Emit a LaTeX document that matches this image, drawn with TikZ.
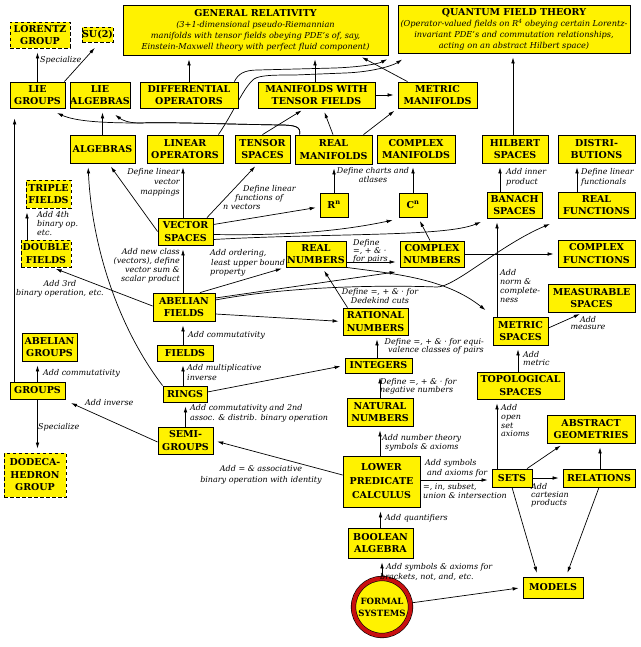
\documentclass[tikz,border=0pt]{standalone}
\usepackage{fontspec}
\setmainfont{DejaVu Serif}
\usetikzlibrary{arrows.meta,calc}
\pgfdeclarelayer{bg}
\pgfsetlayers{bg,main}
\definecolor{ringred}{RGB}{200,16,16}
\tikzset{
  box/.style={draw=black, fill=yellow, line width=0.8pt, align=center, inner sep=0pt, font=\bfseries\fontsize{9.5}{12.5}\selectfont},
  dbox/.style={box, dash pattern=on 3.5pt off 2.5pt},
  lab/.style={font=\itshape\fontsize{8}{9}\selectfont, inner sep=0pt, align=left, text=black},
  arr/.style={-{Latex[length=6pt,width=3.6pt]}, line width=0.7pt, shorten >=4pt},
  sz/.style 2 args={minimum width=#1pt, minimum height=#2pt},
  bigtext/.style={font=\itshape\fontsize{8.2}{11}\selectfont}
}
\begin{document}
\begin{tikzpicture}[x=1pt,y=-1pt]
\path[use as bounding box] (0,0) rectangle (640,647);
% ---------- nodes ----------
\node[dbox, sz={60}{26}] (lorentz) at (40,35) {LORENTZ\\GROUP};
\node[dbox, sz={31}{15}] (su2) at (97.5,35) {SU(2)};
\node[box, sz={265}{50}, bigtext] (gr) at (255.5,30) {{\bfseries\upshape\fontsize{9.5}{11}\selectfont GENERAL RELATIVITY}\\(3+1-dimensional pseudo-Riemannian\\manifolds with tensor fields obeying PDE's of, say,\\Einstein-Maxwell theory with perfect fluid component)};
\node[box, sz={232}{48}, bigtext] (qft) at (514,29) {{\bfseries\upshape\fontsize{9.5}{11}\selectfont QUANTUM FIELD THEORY}\\(Operator-valued fields on R\textsuperscript{4} obeying certain Lorentz-\\invariant PDE's and commutation relationships,\\acting on an abstract Hilbert space)};
\node[box, sz={55}{26}] (liegroups) at (37.5,95) {LIE\\GROUPS};
\node[box, sz={60}{26}] (liealg) at (100,95) {LIE\\ALGEBRAS};
\node[box, sz={98}{26}] (diffop) at (189,95) {DIFFERENTIAL\\OPERATORS};
\node[box, sz={117}{26}] (mtf) at (316.5,95) {MANIFOLDS WITH\\TENSOR FIELDS};
\node[box, sz={79}{26}] (metman) at (437.5,95) {METRIC\\MANIFOLDS};
\node[box, sz={65}{28}] (algebras) at (102.5,149) {ALGEBRAS};
\node[box, sz={76}{28}] (linop) at (185,149) {LINEAR\\OPERATORS};
\node[box, sz={55}{28}] (tensp) at (262.5,149) {TENSOR\\SPACES};
\node[box, sz={77}{29}] (realman) at (333.5,149.5) {REAL\\MANIFOLDS};
\node[box, sz={78}{28}] (complexman) at (416,149) {COMPLEX\\MANIFOLDS};
\node[box, sz={66}{28}] (hilbert) at (515,149) {HILBERT\\SPACES};
\node[box, sz={77}{28}] (distrib) at (596.5,149) {DISTRI-\\BUTIONS};
\node[dbox, sz={45}{28}] (triple) at (48.5,194) {TRIPLE\\FIELDS};
\node[dbox, sz={50}{27}] (double) at (46,253.5) {DOUBLE\\FIELDS};
\node[box, sz={55}{27}] (vector) at (185.5,231.5) {VECTOR\\SPACES};
\node[box, sz={28}{24}] (rn) at (334,205) {R\textsuperscript{n}};
\node[box, sz={28}{24}] (cn) at (413,205) {C\textsuperscript{n}};
\node[box, sz={55}{26}] (banach) at (514.5,205) {BANACH\\SPACES};
\node[box, sz={77}{26}] (realfun) at (596.5,205) {REAL\\FUNCTIONS};
\node[box, sz={60}{26}] (realnum) at (316,254) {REAL\\NUMBERS};
\node[box, sz={64}{26}] (compnum) at (432,254) {COMPLEX\\NUMBERS};
\node[box, sz={77}{27}] (compfun) at (596.5,253.5) {COMPLEX\\FUNCTIONS};
\node[box, sz={62}{28}] (abfields) at (184,307) {ABELIAN\\FIELDS};
\node[box, sz={87}{28}] (measurable) at (591.5,298) {MEASURABLE\\SPACES};
\node[box, sz={65}{27}] (rational) at (375.5,321.5) {RATIONAL\\NUMBERS};
\node[box, sz={55}{28}] (metricsp) at (520.5,331) {METRIC\\SPACES};
\node[box, sz={55}{28}] (abgroups) at (49.5,347) {ABELIAN\\GROUPS};
\node[box, sz={56}{16}] (fields) at (185,353) {FIELDS};
\node[box, sz={55}{17}] (groups) at (37.5,390.5) {GROUPS};
\node[box, sz={44}{16}] (rings) at (185,394) {RINGS};
\node[box, sz={67}{15}] (integers) at (378.5,365.5) {INTEGERS};
\node[box, sz={87}{27}] (topological) at (520.5,385.5) {TOPOLOGICAL\\SPACES};
\node[box, sz={66}{28}] (natural) at (380,412) {NATURAL\\NUMBERS};
\node[box, sz={88}{28}] (abstractgeo) at (591,429) {ABSTRACT\\GEOMETRIES};
\node[box, sz={55}{27}] (semigroups) at (185.5,440.5) {SEMI-\\GROUPS};
\node[dbox, sz={62}{44}] (dodeca) at (35,475) {DODECA-\\HEDRON\\GROUP};
\node[box, sz={77}{51}, font=\bfseries\fontsize{9.5}{14}\selectfont] (lpc) at (381.5,481.5) {LOWER\\PREDICATE\\CALCULUS};
\node[box, sz={40}{18}] (sets) at (512,478) {SETS};
\node[box, sz={72}{18}] (relations) at (599,478) {RELATIONS};
\node[box, sz={65}{30}] (boolean) at (380.5,543) {BOOLEAN\\ALGEBRA};
\node[box, sz={60}{21}] (models) at (553,587.5) {MODELS};
\node[circle, fill=yellow, draw=black, double=ringred, double distance=4pt, line width=0.6pt, minimum size=57pt, inner sep=0pt, align=center, font=\bfseries\fontsize{8.6}{12}\selectfont] (formal) at (382,607) {FORMAL\\SYSTEMS};
% ---------- labels ----------
\node[lab, anchor=west] (l1) at (40,60) {Specialize};
\node[lab, anchor=north east, align=right, font=\itshape\fontsize{8}{10}\selectfont] (l2) at (180,168) {Define linear\\vector\\mappings};
\node[lab, anchor=north west, font=\itshape\fontsize{8}{8.7}\selectfont] (l3) at (223,185.5) {\hspace*{20pt}Define linear\\\hspace*{12pt}functions of\\n vectors};
\node[lab, anchor=north, align=center] (l4) at (373,167.5) {Define charts and\\atlases};
\node[lab, anchor=north west, font=\itshape\fontsize{8}{10}\selectfont] (l5) at (506,168) {Add inner\\product};
\node[lab, anchor=north west, font=\itshape\fontsize{8}{10}\selectfont] (l6) at (581,168) {Define linear\\functionals};
\node[lab, anchor=north west] (l7) at (37,211.5) {Add 4th\\binary op.\\etc.};
\node[lab, anchor=north east, align=right] (l8) at (180,248.5) {Add new class\\(vectors), define\\vector sum \&\\scalar product};
\node[lab, anchor=north west, font=\itshape\fontsize{8}{9.5}\selectfont] (l9) at (210,249.5) {Add ordering,\\\hspace*{1pt}least upper bound\\property};
\node[lab, anchor=north, align=center, font=\itshape\fontsize{8}{8.5}\selectfont] (l10) at (60,280.5) {Add 3rd\\binary operation, etc.};
\node[lab, anchor=north west, font=\itshape\fontsize{8}{7.5}\selectfont] (l11) at (353,239) {Define\\=, + \& ·\\for pairs};
\node[lab, anchor=north, align=center] (l12) at (380,288.5) {Define =, + \& · for\\Dedekind cuts};
\node[lab, anchor=north west] (l13) at (500,269.5) {Add\\norm \&\\complete-\\ness};
\node[lab, anchor=north, align=center, font=\itshape\fontsize{8}{7.5}\selectfont] (l14) at (588,316) {Add\\measure};
\node[lab, anchor=west] (l15) at (188,335) {Add commutativity};
\node[lab, anchor=north west, font=\itshape\fontsize{8}{10}\selectfont] (l16) at (187,364.5) {Add multiplicative\\inverse};
\node[lab, anchor=north west, font=\itshape\fontsize{8}{10}\selectfont] (l17) at (190,404.5) {Add commutativity and 2nd\\assoc. \& distrib. binary operation};
\node[lab, anchor=west] (l18) at (85,403) {Add inverse};
\node[lab, anchor=west] (l19) at (43,373) {Add commutativity};
\node[lab, anchor=west] (l20) at (38,427) {Specialize};
\node[lab, anchor=north, align=center, font=\itshape\fontsize{8}{11}\selectfont] (l21) at (261,465.5) {Add = \& associative\\binary operation with identity};
\node[lab, anchor=north east, align=right, font=\itshape\fontsize{8}{8.5}\selectfont] (l22) at (484,338) {Define =, + \& · for equi-\\valence classes of pairs};
\node[lab, anchor=north west, font=\itshape\fontsize{8}{8.5}\selectfont] (l23) at (380,378) {Define =, + \& · for\\negative numbers};
\node[lab, anchor=north west] (l24) at (382,434.5) {Add number theory\\\hspace*{3pt}symbols \& axioms};
\node[lab, anchor=north west, font=\itshape\fontsize{8}{10}\selectfont] (l25) at (425,459.5) {Add symbols\\\hspace*{2pt}and axioms for};
\node[lab, anchor=north west] (l26) at (423,483.5) {=, in, subset,\\union \& intersection};
\node[lab, anchor=north west, font=\itshape\fontsize{8}{7.8}\selectfont] (l27) at (531,483.5) {Add\\cartesian\\products};
\node[lab, anchor=north west, font=\itshape\fontsize{8}{8.7}\selectfont] (l28) at (501,404.5) {Add\\open\\set\\axioms};
\node[lab, anchor=north west, font=\itshape\fontsize{8}{8}\selectfont] (l29) at (523,351.5) {Add\\metric};
\node[lab, anchor=west] (l30) at (385,518) {Add quantifiers};
\node[lab, anchor=north west, font=\itshape\fontsize{8}{10}\selectfont] (l31) at (380,563.5) {\hspace*{6pt}Add symbols \& axioms for\\brackets, not, and, etc.};
% ---------- connectors ----------
\begin{pgfonlayer}{bg}
\fill[white] (0,0) rectangle (640,647);
\draw[arr] (liegroups.north) -- (liegroups.north |- lorentz.south);
\draw[arr] ([xshift=-1pt]liegroups.north east) -- ([yshift=-2pt]su2.south);
\draw[arr] ([xshift=5pt]groups.north west) -- ([xshift=5pt,yshift=-6pt]liegroups.south west);
\draw[arr] (diffop.north) -- (diffop.north |- gr.south);
\draw[arr] ([xshift=-1.5pt]mtf.north) -- ([xshift=-1.5pt]mtf.north |- gr.south);
\draw[arr] ([xshift=-30pt]metman.north) -- ([xshift=-30pt]gr.south east);
\draw[arr] (mtf.east) -- (metman.west);
\draw[arr] ([xshift=-4pt]diffop.north east) .. controls (238,74) and (244,70) .. (258,70) -- (335,68) .. controls (360,67) and (378,64) .. ([xshift=-7pt,yshift=-4pt]qft.south west);
\draw[arr] ([xshift=-5pt]linop.north east) .. controls (235,110) and (243,88) .. (254,79) .. controls (260,75) and (275,75) .. (295,75) -- (345,73) .. controls (372,72) and (392,66) .. ([xshift=8pt,yshift=-4pt]qft.south west);
\draw[arr] ([xshift=5pt]realman.north west) .. controls (301,127) and (296,125) .. (280,125) .. controls (220,124) and (170,122) .. (140,123) .. controls (100,123) and (75,121) .. ([xshift=-12pt,yshift=-3pt]liegroups.south east);
\draw[arr] ([xshift=5pt]realman.north west) .. controls (301,127) and (296,125) .. (280,125) .. controls (220,124) and (170,122) .. (140,123) .. controls (128,123) and (122,120) .. ([xshift=12pt,yshift=-4pt]liealg.south);
\draw[arr] (algebras.north) -- (algebras.north |- liealg.south);
\draw[arr] (tensp.north) -- ([xshift=-11.5pt]mtf.south);
\draw[arr] ([xshift=-0.5pt]realman.north) -- ([xshift=6.5pt]mtf.south);
\draw[arr] ([xshift=30pt]realman.north) -- ([xshift=-40pt]metman.south);
\draw[arr] ([xshift=-2pt]hilbert.north) -- ([xshift=-2pt]hilbert.north |- qft.south);
\draw[arr] ([xshift=-14.5pt]banach.north) -- ([xshift=-14.5pt]banach.north |- hilbert.south);
\draw[arr] ([xshift=-19.5pt]realfun.north) -- ([xshift=-19.5pt]realfun.north |- distrib.south);
\draw[arr] (rn.north) -- (rn.north |- realman.south);
\draw[arr] (cn.north) -- (cn.north |- complexman.south);
\draw[arr] (vector.west) -- ([xshift=6pt]algebras.south);
\draw[arr] ([xshift=-2.5pt]vector.north) -- ([xshift=-2.5pt]vector.north |- linop.south);
\draw[arr] ([xshift=21.5pt]vector.north) -- ([xshift=-4.5pt]tensp.south);
\draw[arr] ([yshift=7pt]vector.east) -- ([yshift=-2pt]rn.west);
\draw[arr] ([yshift=-3pt]vector.east) .. controls (300,236) and (350,229) .. ([xshift=-2pt,yshift=-2pt]cn.south west);
\draw[arr] ([yshift=-8pt]vector.east) .. controls (330,233) and (445,237) .. ([xshift=-2pt,yshift=-2pt]banach.south west);
\draw[arr] ([xshift=-2pt]compnum.north) -- ([xshift=5pt]cn.south);
\draw[arr] (compnum.east) -- (compnum.east -| compfun.west);
\draw[arr] ([yshift=-8pt]realnum.east) -- ([yshift=-8pt]realnum.east -| compnum.west);
\draw[arr] ([yshift=9pt]abfields.east) -- ([yshift=-4pt]compnum.south west);
\draw[arr] ([yshift=7pt]abfields.east) .. controls (290,286) and (385,285) .. (437,287) .. controls (455,287) and (500,245) .. ([xshift=-4pt,yshift=-4pt]realfun.south west);
\draw[arr] ([xshift=16pt]abfields.north) -- (realnum.south west);
\draw[arr] ([yshift=-7pt]abfields.east) -- (rational.west);
\draw[arr] ([xshift=-1pt]abfields.north) -- ([xshift=-1pt]abfields.north |- vector.south);
\draw[arr] ([yshift=1pt]abfields.west) -- ([xshift=6pt]double.south);
\draw[arr] ([xshift=-19pt]double.north) -- ([xshift=-19pt]double.north |- triple.south);
\draw[arr] ([xshift=-28pt]rational.north) -- ([xshift=6pt]realnum.south);
\draw[arr] (realnum.south east) .. controls (395,274) and (445,278) .. ([xshift=-4pt,yshift=4pt]metricsp.north west);
\draw[arr] ([xshift=-1.5pt]integers.north) -- ([xshift=-1.5pt]integers.north |- rational.south);
\draw[arr] (natural.north) -- (natural.north |- integers.south);
\draw[arr] ([xshift=-1.5pt]lpc.north) -- ([xshift=-1.5pt]lpc.north |- natural.south);
\draw[arr] ([yshift=2pt]rings.east) -- (integers.west);
\draw[arr] (rings.north west) .. controls (120,330) and (92,250) .. ([xshift=-14.5pt]algebras.south);
\draw[arr] ([xshift=-2pt]fields.north) -- ([xshift=-2pt]fields.north |- abfields.south);
\draw[arr] ([xshift=-2pt]rings.north) -- ([xshift=-2pt]rings.north |- fields.south);
\draw[arr] (semigroups.north) -- (semigroups.north |- rings.south);
\draw[arr] ([yshift=-1.5pt]semigroups.west) -- ([xshift=2pt,yshift=-2pt]groups.south east);
\draw[arr] (groups.north) -- (groups.north |- abgroups.south);
\draw[arr] (groups.south) -- (groups.south |- dodeca.north);
\draw[arr] ([yshift=6.5pt]lpc.west) -- (semigroups.east);
\draw[arr] ([yshift=1.5pt]lpc.east) -- ([yshift=1.5pt]lpc.east -| sets.west);
\draw[arr] (boolean.north) -- (boolean.north |- lpc.south);
\draw[arr] (formal.north) -- (formal.north |- boolean.south);
\draw[arr] (formal.8) -- (models.west);
\draw[arr] ([xshift=-15pt]sets.north) -- ([xshift=-15pt]sets.north |- topological.south);
\draw[arr] ([xshift=-2.5pt]topological.north) -- ([xshift=-2.5pt]topological.north |- metricsp.south);
\draw[arr] ([xshift=-23.5pt]metricsp.north) -- ([xshift=-23.5pt]metricsp.north |- banach.south);
\draw[arr] ([yshift=3pt]metricsp.east) -- ([xshift=-8pt]measurable.south);
\draw[arr] ([xshift=15pt]sets.north) -- ([xshift=-27pt]abstractgeo.south);
\draw[arr] (sets.east) -- (relations.west);
\draw[arr] ([xshift=1pt]relations.north) -- ([xshift=1pt]relations.north |- abstractgeo.south);
\draw[arr] (sets.south) -- ([xshift=-15pt]models.north);
\draw[arr] (relations.south) -- ([xshift=13pt]models.north);
\end{pgfonlayer}
\end{tikzpicture}
\end{document}
